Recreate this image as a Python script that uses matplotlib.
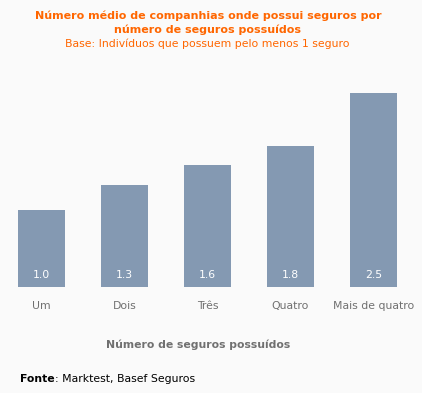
import matplotlib
matplotlib.use('Agg')
import matplotlib.pyplot as plt

# Data
categories = ['Um', 'Dois', 'Três', 'Quatro', 'Mais de quatro']
values = [1.0, 1.32, 1.57, 1.82, 2.5]

title1 = 'Número médio de companhias onde possui seguros por'
title2 = 'número de seguros possuídos'
subtitle = 'Base: Indivíduos que possuem pelo menos 1 seguro'
xlabel = 'Número de seguros possuídos'

bg = '#fafafa'
orange = '#ff6600'
bar_color = '#8499b2'
grey = '#707070'

plt.rcParams['font.family'] = 'DejaVu Sans'
fs = 7.8

W, H = 422, 393
fig = plt.figure(figsize=(W / 100, H / 100), dpi=100, facecolor=bg)
# axes: x from 0 to 415 px, bottom at 287 px, top at 80 px
ax = fig.add_axes([0 / W, 1 - 287 / H, 415 / W, (287 - 80) / H])
ax.set_facecolor(bg)

x = list(range(len(categories)))
ax.bar(x, values, width=0.57, color=bar_color)
for xi, v in zip(x, values):
    ax.text(xi, 0.15, f'{v:.1f}', ha='center', va='center', color='white', fontsize=fs)

ax.set_xlim(-0.5, 4.5)
ax.set_ylim(0, (287 - 80) / 77.5)
ax.axis('off')

# category labels
for xi, c in zip(x, categories):
    ax.text(xi, -0.25, c, ha='center', va='center', color=grey, fontsize=fs)

# titles
fig.text(208 / W, 1 - 16 / H, title1, ha='center', va='center', color=orange,
         fontsize=8.0, weight='bold')
fig.text(208 / W, 1 - 30 / H, title2, ha='center', va='center', color=orange,
         fontsize=8.0, weight='bold')
fig.text(207 / W, 1 - 44 / H, subtitle, ha='center', va='center', color=orange, fontsize=fs)

fig.text(198 / W, 1 - 345 / H, xlabel, ha='center', va='center', color=grey,
         fontsize=fs, weight='bold')

t = fig.text(20 / W, 1 - 379 / H, 'Fonte', ha='left', va='center', color='black',
             fontsize=fs, weight='bold')
fig.canvas.draw()
bb = t.get_window_extent()
fig.text(bb.x1 / W, 1 - 379 / H, ': Marktest, Basef Seguros', ha='left', va='center',
         color='black', fontsize=fs)

fig.savefig('out.png', dpi=100, facecolor=bg)
